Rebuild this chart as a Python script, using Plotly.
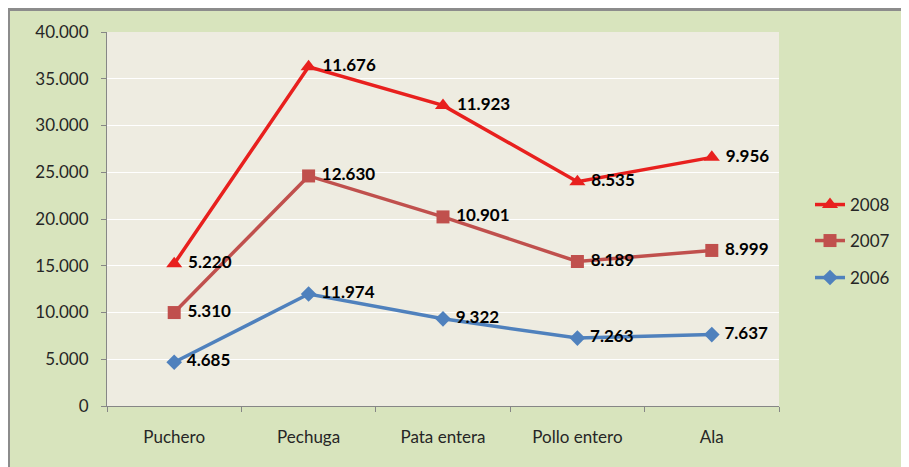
import plotly.graph_objects as go

categories = ["Puchero", "Pechuga", "Pata entera", "Pollo entero", "Ala"]
series_names = ["2006", "2007", "2008"]
values_2006 = [4685, 11974, 9322, 7263, 7637]
values_2007 = [5310, 12630, 10901, 8189, 8999]
values_2008 = [5220, 11676, 11923, 8535, 9956]
y_ticks = [0, 5000, 10000, 15000, 20000, 25000, 30000, 35000, 40000]

colors = {"2006": "#4F81BD", "2007": "#C0504D", "2008": "#E8201E"}
symbols = {"2006": "diamond", "2007": "square", "2008": "triangle-up"}
sizes = {"2006": 12, "2007": 13, "2008": 14}
legend_ids = {"2008": "legend", "2007": "legend2", "2006": "legend3"}
all_values = {"2006": values_2006, "2007": values_2007, "2008": values_2008}

FONT = "Lato, Liberation Sans, sans-serif"

def fmt(v):
    return " " + f"{v:,}".replace(",", ".")

fig = go.Figure()
for name in series_names:
    vals = all_values[name]
    fig.add_trace(go.Scatter(
        x=categories, y=vals, name=name,
        stackgroup="one", fill="none",
        mode="lines+markers+text",
        line=dict(color=colors[name], width=3.5),
        marker=dict(symbol=symbols[name], size=sizes[name], color=colors[name]),
        text=[fmt(v) for v in vals],
        textposition="middle right",
        textfont=dict(family=FONT, size=17, color="#000000", weight="bold"),
        legend=legend_ids[name],
        cliponaxis=False,
    ))

# page has 8px body margin; figure is offset by 8px
W, H = 901, 459
L, R, T, B = 99, 130, 24, 61
pw = W - L - R
ph = H - T - B

# outer gray border (left and top visible)
fig.add_shape(type="rect", xref="paper", yref="paper",
              x0=(0.5 - L) / pw, x1=(W + 20 - L) / pw,
              y0=(-(B + 20)) / ph, y1=(H - B - 1.5) / ph,
              line=dict(color="#8C8C8C", width=3), fillcolor="rgba(0,0,0,0)",
              layer="above")

def leg(yc):
    return dict(x=(802 - L) / pw, xanchor="left", y=(H - B - yc) / ph, yanchor="middle",
                bgcolor="rgba(0,0,0,0)", font=dict(family=FONT, size=17, color="#262626"))

fig.update_layout(
    width=W, height=H,
    margin=dict(l=L, r=R, t=T, b=B),
    paper_bgcolor="#D8E4BD",
    plot_bgcolor="#EEECE1",
    separators=",.",
    font=dict(family=FONT, size=17, color="#262626"),
    showlegend=True,
    legend=leg(197),
    legend2=leg(233),
    legend3=leg(270),
    xaxis=dict(type="category", range=[-0.5, 4.5],
               showline=True, linecolor="#868686", linewidth=1,
               ticks="outside", tickson="boundaries", ticklen=5, tickcolor="#868686",
               showgrid=False, ticklabelstandoff=16,
               tickfont=dict(family=FONT, size=17, color="#262626")),
    yaxis=dict(range=[0, 40000], tickvals=y_ticks, tickformat=",d",
               showline=True, linecolor="#868686", linewidth=1,
               ticks="outside", ticklen=5, tickcolor="#868686",
               showgrid=True, gridcolor="#FFFFFF", gridwidth=1,
               zeroline=False, ticklabelstandoff=9,
               tickfont=dict(family=FONT, size=17, color="#262626")),
)

fig.write_html("out.html")
